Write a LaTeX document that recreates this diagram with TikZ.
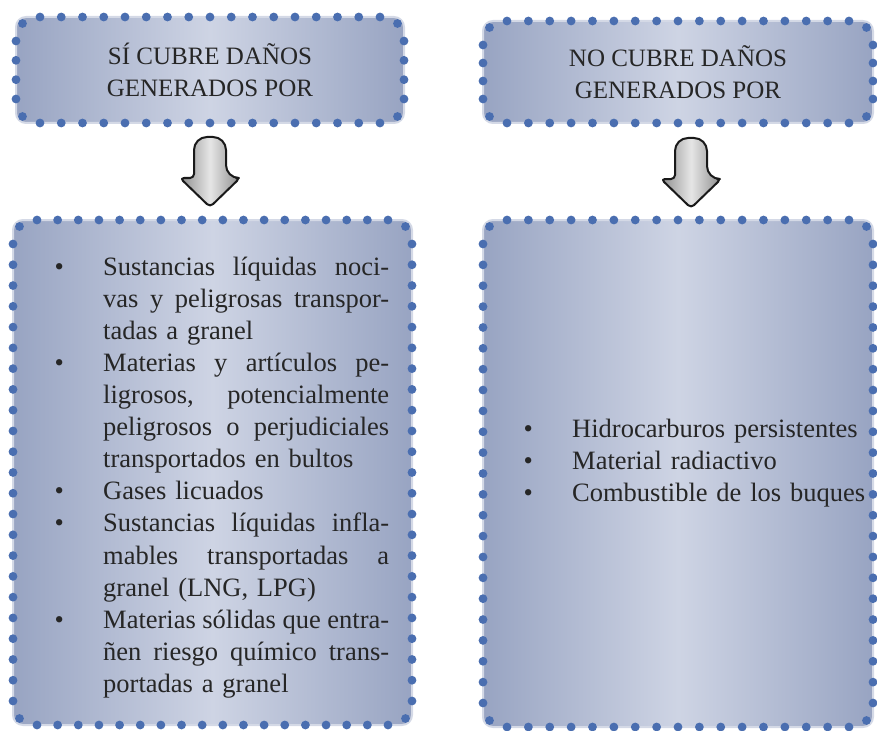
\documentclass[tikz,border=0pt]{standalone}
\usepackage{fontspec}
\setmainfont{Liberation Serif}
\definecolor{dotc}{HTML}{4A6EB0}
\definecolor{edgec}{HTML}{98A4C2}
\definecolor{midc}{HTML}{CED4E4}
\definecolor{rimc}{HTML}{D4D9E6}
\tikzset{
  box/.style={rounded corners=10pt, inner sep=0pt, shade, left color=edgec, right color=edgec, middle color=midc,
    draw=rimc, line width=2pt},
  dotsty/.style={fill=dotc},
  headtxt/.style={align=center, text=black!85, font={\fontsize{25}{32.5}\selectfont}},
  listtxt/.style={inner sep=0pt, anchor=north west, text=black!85, font={\fontsize{26.5}{32.1}\selectfont}},
  arrowsty/.style={draw=black!90, line width=2pt, line join=round, left color=black!45, right color=black!45, middle color=black!10},
  downarrow/.pic={\path[arrowsty] (-16,41) [rounded corners=13pt] -- (-16,0) -- (16,0) -- (16,41) [rounded corners=4pt] -- (30,41) -- (0,70) -- (-30,41) -- cycle;}
}
\newcommand{\dotline}[4]{%
  \pgfmathtruncatemacro{\nn}{max(1,round(veclen((#3)-(#1),(#4)-(#2))/21))}%
  \foreach \i in {0,...,\nn}{\fill[dotsty] ({(#1)+((#3)-(#1))*\i/\nn},{(#2)+((#4)-(#2))*\i/\nn}) circle (4.4pt);}%
}
\newcommand{\dotframe}[4]{%
  \dotline{#1+24}{#2}{#3-24}{#2}%
  \dotline{#1+24}{#4}{#3-24}{#4}%
  \dotline{#1}{#2+24}{#1}{#4-24}%
  \dotline{#3}{#2+24}{#3}{#4-24}%
  \fill[dotsty] ({#1+6.5},{#2+6.5}) circle (4.4pt);
  \fill[dotsty] ({#3-6.5},{#2+6.5}) circle (4.4pt);
  \fill[dotsty] ({#1+6.5},{#4-6.5}) circle (4.4pt);
  \fill[dotsty] ({#3-6.5},{#4-6.5}) circle (4.4pt);
}
\newcommand{\bul}{\llap{\makebox[48.5pt][l]{•}}}
\newcommand{\jl}[1]{\leavevmode\hbox to 286pt{#1}}
\begin{document}
\begin{tikzpicture}[x=1pt,y=-1pt]
\useasboundingbox (0,0) rectangle (877,730);
% top boxes
\node[box, headtxt, minimum width=388pt, minimum height=106pt] (t1) at (210,70) {SÍ CUBRE DAÑOS\\GENERADOS POR};
\node[box, headtxt, minimum width=390pt, minimum height=102pt] (t2) at (678,72) {NO CUBRE DAÑOS\\GENERADOS POR};
% bottom boxes
\node[box, minimum width=399pt, minimum height=505pt] (b1) at (212.5,472.5) {};
\node[box, minimum width=390pt, minimum height=507pt] (b2) at (678,473.5) {};
% dotted frames
\dotframe{16}{17}{404}{123}
\dotframe{483}{21}{873}{123}
\dotframe{13}{220}{412}{725}
\dotframe{483}{220}{873}{727}
% arrows
\coordinate (a1) at (210,137);
\coordinate (a2) at (691,138);
\pic at (a1) {downarrow};
\pic at (a2) {downarrow};
% lists
\node[listtxt, text width=286pt] (l1) at (103,252.5) {\noindent\strut\bul\jl{Sustancias\hfill líquidas\hfill noci-}\\
\strut\jl{vas\hfill y\hfill peligrosas\hfill transpor-}\\
\strut tadas a granel\\
\strut\bul\jl{Materias\hfill y\hfill artículos\hfill pe-}\\
\strut\jl{ligrosos,\hfill potencialmente}\\
\strut\jl{peligrosos\hfill o\hfill perjudiciales}\\
\strut transportados en bultos\\
\strut\bul Gases licuados\\
\strut\bul\jl{Sustancias\hfill líquidas\hfill infla-}\\
\strut\jl{mables\hfill transportadas\hfill a}\\
\strut granel (LNG, LPG)\\
\strut\bul\jl{Materias\hfill sólidas\hfill que\hfill entra-}\\
\strut\jl{ñen\hfill riesgo\hfill químico\hfill trans-}\\
\strut portadas a granel};
\node[listtxt, text width=300pt] (l2) at (572,414.5) {\noindent\strut\bul Hidrocarburos persistentes\\
\strut\bul Material radiactivo\\
\strut\bul Combustible de los buques};
\end{tikzpicture}
\end{document}
